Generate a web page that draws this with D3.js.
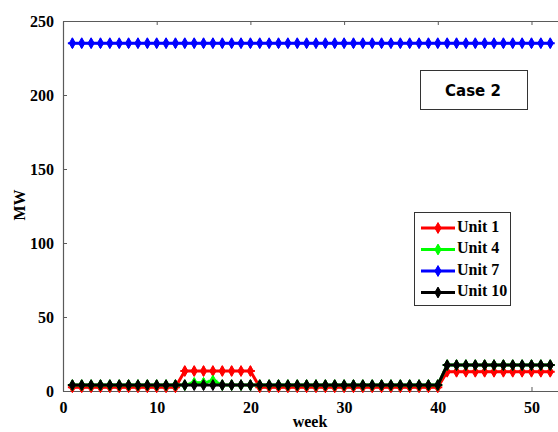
<!DOCTYPE html>
<html>
<head>
<meta charset="utf-8">
<script src="https://cdn.jsdelivr.net/npm/d3@7/dist/d3.min.js"></script>
<style>
  html, body { margin: 0; padding: 0; background: #fff; }
  svg { display: block; }
</style>
</head>
<body>
<svg id="chart" width="558" height="432"></svg>
<script>
// Weekly generation (MW) of four units over one year
const weeks = d3.range(1, 53);

const unit1 = [
  2.5, 2.5, 2.5, 2.5, 2.5, 2.5, 2.5, 2.5, 2.5, 2.5, 2.5, 2.5,
  13.5, 13.5, 13.5, 13.5, 13.5, 13.5, 13.5, 13.5,
  2.5, 2.5, 2.5, 2.5, 2.5, 2.5, 2.5, 2.5, 2.5, 2.5,
  2.5, 2.5, 2.5, 2.5, 2.5, 2.5, 2.5, 2.5, 2.5, 2.5,
  13, 13, 13, 13, 13, 13, 13, 13, 13, 13, 13, 13
];
const unit4 = [
  4, 4, 4, 4, 4, 4, 4, 4, 4, 4, 4, 4, 4,
  5.5, 5.5, 7,
  4, 4, 4, 4, 4, 4, 4, 4, 4, 4, 4, 4, 4, 4,
  4, 4, 4, 4, 4, 4, 4, 4, 4, 4,
  17.5, 17.5, 17.5, 17.5, 17.5, 17.5, 17.5, 17.5, 17.5, 17.5, 17.5, 17.5
];
const unit7 = [
  235, 235, 235, 235, 235, 235, 235, 235, 235, 235, 235, 235, 235,
  235, 235, 235, 235, 235, 235, 235, 235, 235, 235, 235, 235, 235,
  235, 235, 235, 235, 235, 235, 235, 235, 235, 235, 235, 235, 235,
  235, 235, 235, 235, 235, 235, 235, 235, 235, 235, 235, 235, 235
];
const unit10 = [
  4, 4, 4, 4, 4, 4, 4, 4, 4, 4, 4, 4, 4, 4, 4, 4, 4, 4, 4, 4,
  4, 4, 4, 4, 4, 4, 4, 4, 4, 4, 4, 4, 4, 4, 4, 4, 4, 4, 4, 4,
  17.5, 17.5, 17.5, 17.5, 17.5, 17.5, 17.5, 17.5, 17.5, 17.5, 17.5, 17.5
];

const seriesNames = ["Unit 1", "Unit 4", "Unit 7", "Unit 10"];
const seriesColors = ["#ff0000", "#00ff00", "#0000ff", "#000000"];
const seriesValues = [unit1, unit4, unit7, unit10];

const xTicks = [0, 10, 20, 30, 40, 50];
const yTicks = [0, 50, 100, 150, 200, 250];
const xLabel = "week";
const yLabel = "MW";
const caseLabel = "Case 2";

const svg = d3.select("#chart");
const plotLeft = 63, plotTop = 21, plotBottom = 391, plotRight = 559.6;

const x = d3.scaleLinear().domain([0, 53]).range([plotLeft, plotRight]);
const y = d3.scaleLinear().domain([0, 250]).range([plotBottom, plotTop]);

const axisColor = "#5a5a5a";
const tickFont = "bold 16px 'Liberation Serif', 'Times New Roman', serif";

// Axes (ticks point inward)
const gx = svg.append("g").attr("transform", `translate(0,${plotBottom})`)
  .call(d3.axisBottom(x).tickValues(xTicks).tickSizeInner(-4).tickSizeOuter(0).tickPadding(11));
const gxTop = svg.append("g").attr("transform", `translate(0,${plotTop})`)
  .call(d3.axisTop(x).tickValues(xTicks).tickSizeInner(-4).tickSizeOuter(0).tickFormat(""));
const gy = svg.append("g").attr("transform", `translate(${plotLeft},0)`)
  .call(d3.axisLeft(y).tickValues(yTicks).tickSizeInner(-4).tickSizeOuter(0).tickPadding(9));

[gx, gxTop, gy].forEach(g => {
  g.select(".domain").attr("stroke", axisColor).attr("stroke-width", 1.2);
  g.selectAll(".tick line").attr("stroke", axisColor).attr("stroke-width", 1);
  g.selectAll(".tick text").attr("fill", "#000").style("font", tickFont);
});

// Marker: filled diamond with a small star cross
const diamond = d3.symbol().type(d3.symbolDiamond).size(34)();
function drawMarkers(g, pts, color) {
  const m = g.selectAll(null).data(pts).enter().append("g")
    .attr("transform", d => `translate(${d[0]},${d[1]})`);
  m.append("path").attr("d", diamond).attr("fill", color).attr("stroke", color).attr("stroke-width", 1);
  m.append("path").attr("d", "M-4.5,0H4.5M0,-4.5V4.5")
    .attr("stroke", color).attr("stroke-width", 2);
}

const line = d3.line().x(d => d[0]).y(d => d[1]);
const plot = svg.append("g");
seriesValues.forEach((vals, i) => {
  const pts = weeks.map((w, k) => [x(w), y(vals[k])]);
  const g = plot.append("g");
  g.append("path").attr("d", line(pts)).attr("fill", "none")
    .attr("stroke", seriesColors[i]).attr("stroke-width", 3).attr("stroke-linejoin", "round");
  drawMarkers(g, pts, seriesColors[i]);
});

// Axis titles
svg.append("text").attr("x", 310).attr("y", 427).attr("text-anchor", "middle")
  .style("font", tickFont).text(xLabel);
svg.append("text").attr("transform", "translate(25,205) rotate(-90)").attr("text-anchor", "middle")
  .style("font", tickFont).text(yLabel);

// Case annotation box
svg.append("rect").attr("x", 420.5).attr("y", 70.5).attr("width", 107).attr("height", 39)
  .attr("fill", "#fff").attr("stroke", "#333").attr("stroke-width", 1);
svg.append("text").attr("x", 473).attr("y", 91).attr("text-anchor", "middle")
  .attr("dominant-baseline", "middle")
  .style("font", "bold 15px 'DejaVu Sans', Verdana, sans-serif").text(caseLabel);

// Legend
const lg = svg.append("g");
lg.append("rect").attr("x", 414.5).attr("y", 212.5).attr("width", 96).attr("height", 93)
  .attr("fill", "#fff").attr("stroke", "#333").attr("stroke-width", 1);
seriesNames.forEach((name, i) => {
  const ly = 228 + i * 21.5;
  lg.append("line").attr("x1", 421).attr("x2", 455).attr("y1", ly).attr("y2", ly)
    .attr("stroke", seriesColors[i]).attr("stroke-width", 3);
  drawMarkers(lg, [[438, ly]], seriesColors[i]);
  lg.append("text").attr("x", 457).attr("y", ly).attr("dominant-baseline", "middle")
    .style("font", tickFont).text(name);
});
</script>
</body>
</html>
